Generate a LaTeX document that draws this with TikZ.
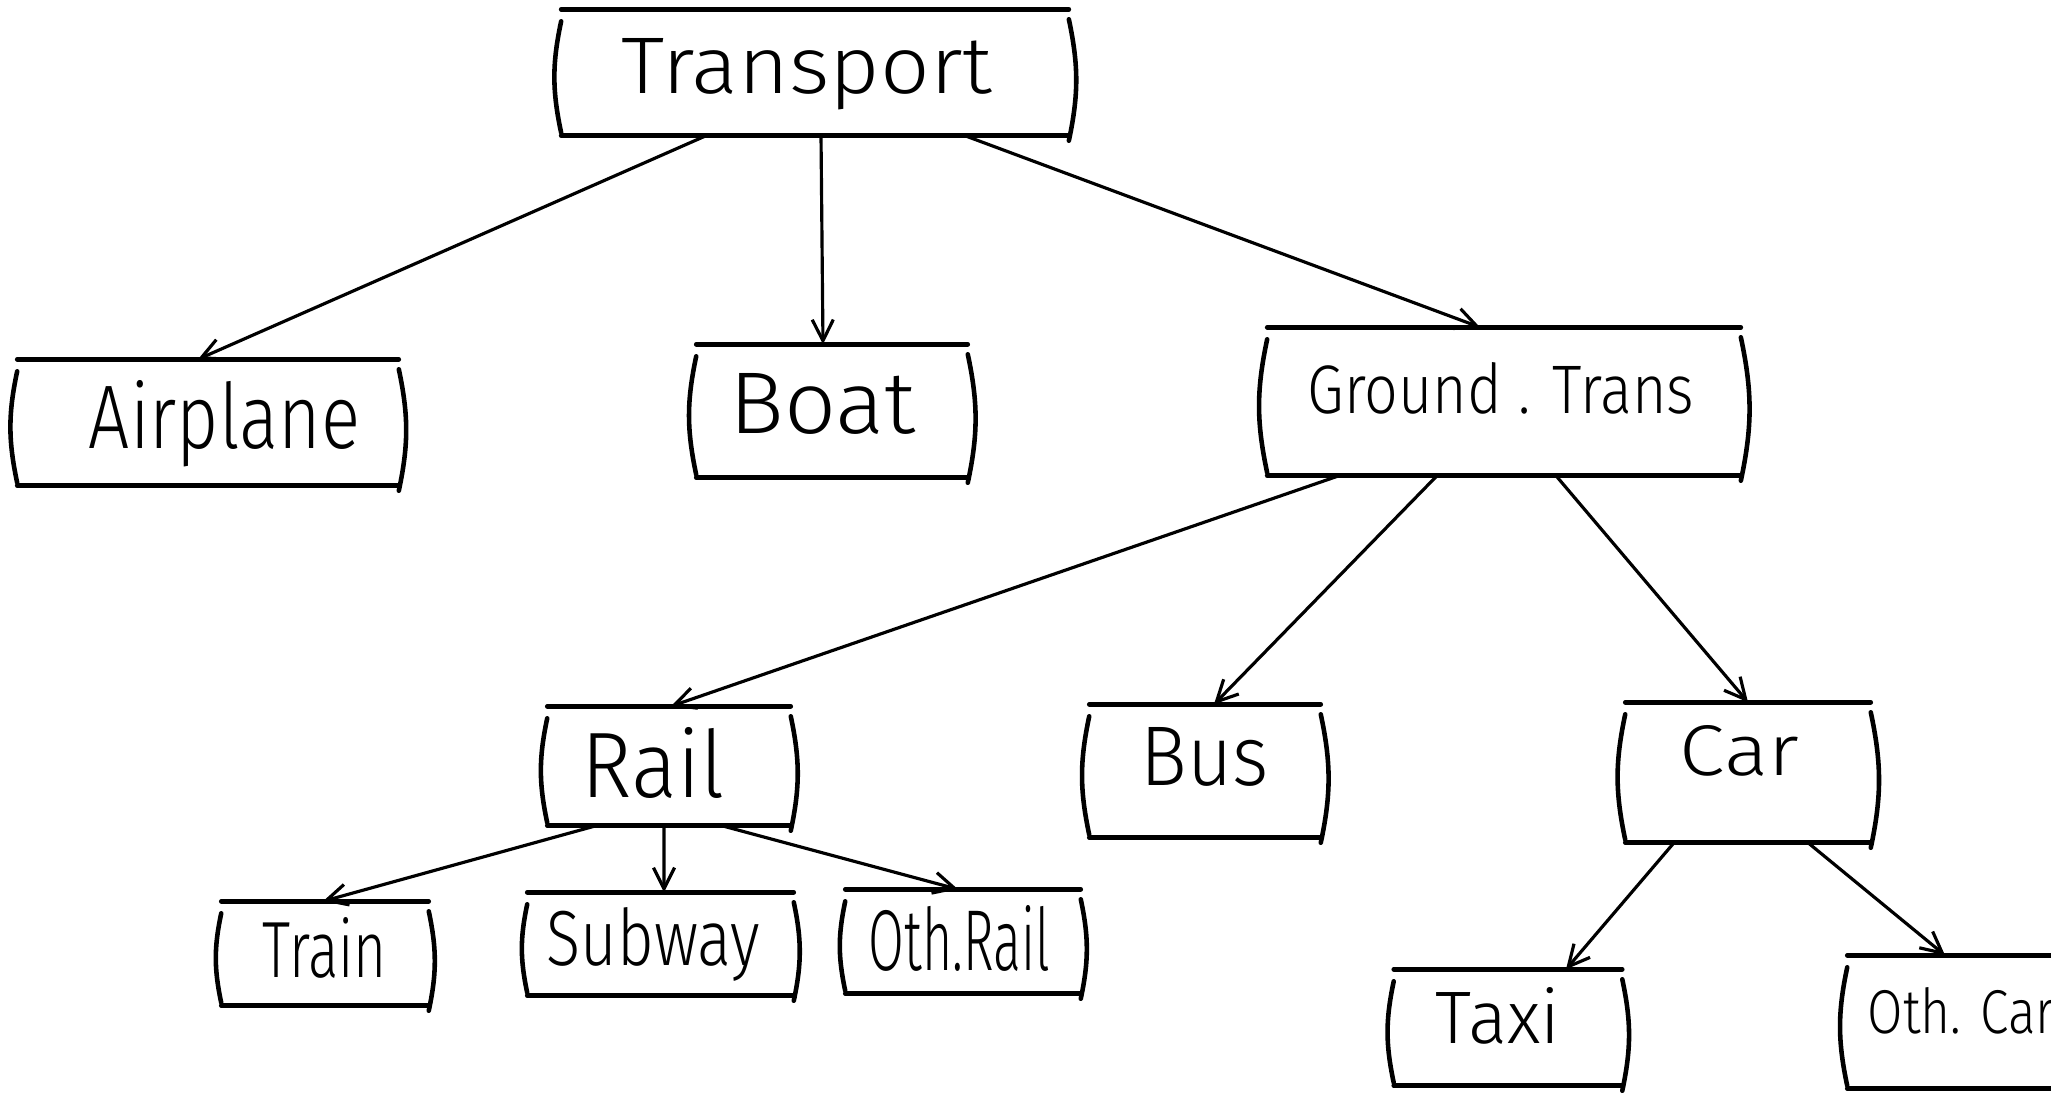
\documentclass[tikz,border=0pt]{standalone}
\usepackage{graphicx}
\usepackage{fontspec}
\setmainfont{Fira Sans}[UprightFont={* Light}]
\usetikzlibrary{arrows.meta}
% word squeezed into a given width and cap height, shifted sideways by #1/2
\newcommand\handword[4]{\hspace*{#1}\resizebox{#2}{#3}{#4}}
\begin{document}
\begin{tikzpicture}[x=0.01cm,y=0.01cm,
  rule/.style={line width=1.3pt, line cap=round},
  bx/.style={inner sep=0pt, append after command={
    (\tikzlastnode.north west) edge[rule] (\tikzlastnode.north east)
    (\tikzlastnode.south west) edge[rule] (\tikzlastnode.south east)
    ([yshift=-0.12cm]\tikzlastnode.north west) edge[rule, bend right=12] ([yshift=0.03cm]\tikzlastnode.south west)
    ([yshift=-0.10cm]\tikzlastnode.north east) edge[rule, bend left=12] ([yshift=-0.05cm]\tikzlastnode.south east)}},
  arr/.style={line width=0.9pt, -{Straight Barb[length=6pt,width=6pt,line width=0.9pt]}}]
\useasboundingbox (0,0) rectangle (2051,-1099);
\fill[white] (0,0) rectangle (2051,-1099);
\clip (0,0) rectangle (2051,-1099);

% top level
\node[bx, minimum width=5.06cm, minimum height=1.25cm, text height=0.55cm, text depth=0.14cm]
  (tr) at (815,-72.5) {\handword{-0.16cm}{3.70cm}{0.55cm}{Transport}};

% second level
\node[bx, minimum width=3.80cm, minimum height=1.25cm, text height=0.68cm, text depth=0.17cm]
  (ap) at (208,-422.5) {\handword{0.33cm}{2.71cm}{0.68cm}{Airplane}};
\node[bx, minimum width=2.70cm, minimum height=1.32cm, text height=0.60cm, text depth=0.16cm]
  (bo) at (832,-411) {\handword{-0.18cm}{1.86cm}{0.60cm}{Boat}};
\node[bx, minimum width=4.72cm, minimum height=1.47cm, text height=0.51cm, text depth=0.28cm]
  (gr) at (1504,-401.5) {\handword{-0.06cm}{3.86cm}{0.51cm}{Ground . Trans}};

% third level
\node[bx, minimum width=2.42cm, minimum height=1.18cm, text height=0.70cm, text depth=0.08cm]
  (ra) at (669,-766) {\handword{-0.31cm}{1.43cm}{0.70cm}{Rail}};
\node[bx, minimum width=2.30cm, minimum height=1.32cm, text height=0.58cm, text depth=0.30cm]
  (bu) at (1205,-771) {\handword{0cm}{1.28cm}{0.58cm}{Bus}};
\node[bx, minimum width=2.44cm, minimum height=1.39cm, text height=0.50cm, text depth=0.45cm]
  (ca) at (1748,-772.5) {\handword{-0.17cm}{1.19cm}{0.50cm}{Car}};

% leaves
\node[bx, minimum width=2.06cm, minimum height=1.03cm, text height=0.60cm, text depth=0.13cm]
  (tn) at (325,-953.5) {\handword{0cm}{1.24cm}{0.60cm}{Train}};
\node[bx, minimum width=2.65cm, minimum height=1.02cm, text height=0.58cm, text depth=0.16cm]
  (sw) at (660.5,-944) {\handword{-0.14cm}{2.13cm}{0.58cm}{Subway}};
\node[bx, minimum width=2.34cm, minimum height=1.03cm, text height=0.65cm, text depth=0.08cm]
  (orl) at (963,-941.5) {\handword{-0.07cm}{1.81cm}{0.65cm}{Oth.Rail}};
\node[bx, minimum width=2.27cm, minimum height=1.15cm, text height=0.56cm, text depth=0.25cm]
  (tx) at (1508,-1027.5) {\handword{-0.20cm}{1.24cm}{0.56cm}{Taxi}};
\node[bx, minimum width=2.42cm, minimum height=1.32cm, text height=0.46cm, text depth=0.24cm]
  (oc) at (1969,-1022) {\handword{-0.15cm}{1.87cm}{0.46cm}{Oth. Car}};

% connectors
\draw[arr] ([xshift=-1.09cm]tr.south) -- ([xshift=-0.10cm]ap.north);
\draw[arr] ([xshift=0.06cm]tr.south)  -- ([xshift=-0.09cm]bo.north);
\draw[arr] ([xshift=1.50cm]tr.south)  -- ([xshift=-0.24cm]gr.north);
\draw[arr] ([xshift=-1.65cm]gr.south) -- ([xshift=0.02cm]ra.north);
\draw[arr] ([xshift=-0.67cm]gr.south) -- ([xshift=0.09cm]bu.north);
\draw[arr] ([xshift=0.52cm]gr.south)  -- (ca.north);
\draw[arr] ([xshift=-0.73cm]ra.south) -- ([xshift=-0.02cm]tn.north);
\draw[arr] ([xshift=-0.05cm]ra.south) -- ([xshift=0.035cm]sw.north);
\draw[arr] ([xshift=0.53cm]ra.south)  -- ([xshift=-0.05cm]orl.north);
\draw[arr] ([xshift=-0.74cm]ca.south) -- ([xshift=0.58cm]tx.north);
\draw[arr] ([xshift=0.60cm]ca.south)  -- ([xshift=-0.24cm]oc.north);
\end{tikzpicture}
\end{document}
